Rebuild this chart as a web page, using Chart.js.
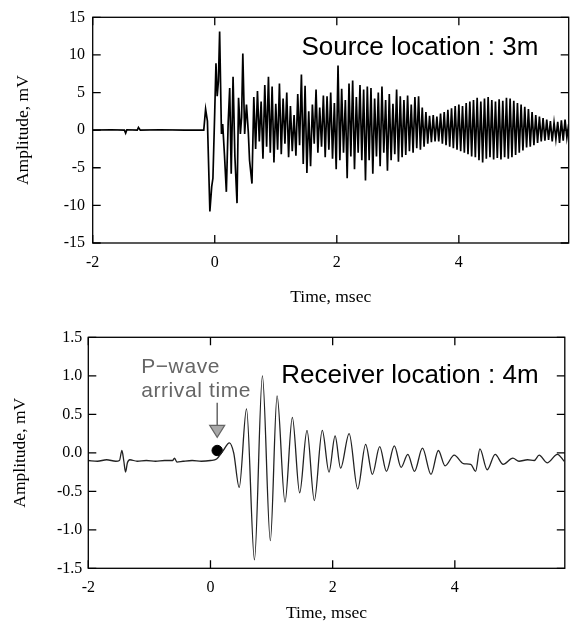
<!DOCTYPE html>
<html><head><meta charset="utf-8">
<script src="https://cdn.jsdelivr.net/npm/chart.js@4.4.0/dist/chart.umd.min.js"></script>
<style>
html,body{margin:0;padding:0;background:#fff;overflow:hidden;}
.w{position:absolute;left:0;width:571px;height:317px;}
#w1{top:0}
#w2{top:317px}
</style></head><body>
<div class="w" id="w1"><canvas id="c1"></canvas></div>
<div class="w" id="w2"><canvas id="c2"></canvas></div>
<script>
// ---------- data ----------
const xTicks = [-2, 0, 2, 4];
const srcTicksY = [-15, -10, -5, 0, 5, 10, 15];
const rcvTicksY = [-1.5, -1.0, -0.5, 0, 0.5, 1.0, 1.5];

// Source trace (mV): explicit points up to the end of the first burst
const srcOnsetTime = [-2.00, -1.70, -1.48, -1.46, -1.44, -1.27, -1.25, -1.22, -0.90, -0.50, -0.18,
  -0.15, -0.12, -0.08, -0.05, -0.03, 0.00, 0.02, 0.04, 0.06, 0.08, 0.11, 0.13, 0.16, 0.19, 0.22,
  0.245, 0.27, 0.30, 0.33, 0.365, 0.39, 0.42, 0.44, 0.46, 0.49, 0.52, 0.55, 0.57, 0.61];
const srcOnsetAmp = [0, 0.05, 0, -0.4, 0.05, 0, 0.35, 0, 0.05, 0, 0,
  2.8, 1.2, -10.8, -7.5, -6.4, 2.5, 8.9, 4.5, 6.5, 13.1, -0.5, 0.8, -3.4, -8.2, 1.0,
  5.6, -5.8, 7.1, -3.5, -9.7, 4.3, -0.5, 1.7, 10.2, -0.5, 3.4, -0.3, -4.0, -7.1];
// Source trace: sampled peaks/troughs every 0.03 ms from 0.64 ms
const srcSampleStart = 0.64;
const srcSampleStep = 0.03;
const srcSampleAmp = [
  4.4, -2.5, 5.2, -1.5, 3.8, -3.8, 6.0, -2.2, 7.1, -3.0,
  5.8, -4.3, 3.5, -2.6, 6.2, -3.2, 4.2, -1.8, 5.0, -3.6,
  3.2, -2.8, 2.0, -3.4, 4.8, -2.0, 7.4, -4.5, 5.9, -5.7,
  2.5, -4.8, 3.4, -1.8, 5.4, -3.0, 3.0, -2.2, 4.6, -3.6,
  4.5, -2.6, 5.0, -3.8, 3.6, -5.2, 8.6, -4.0, 5.5, -3.0,
  4.0, -6.4, 6.2, -3.5, 6.6, -5.2, 4.4, -3.0, 6.0, -4.0,
  5.4, -6.7, 5.8, -4.0, 5.6, -5.8, 4.2, -3.5, 5.0, -4.8,
  5.8, -3.0, 4.0, -5.4, 4.8, -4.0, 3.5, -3.2, 5.4, -4.2,
  4.5, -3.6, 4.0, -3.3, 4.6, -2.8, 3.4, -3.0, 4.4, -2.4,
  4.5, -2.6, 3.0, -2.2, 2.4, -1.8, 1.9, -1.6, 2.0, -1.5,
  1.8, -1.5, 2.2, -1.8, 2.4, -2.0, 2.7, -2.2, 2.9, -2.4,
  3.2, -2.6, 3.4, -2.8, 3.2, -3.0, 3.6, -3.2, 3.8, -3.5,
  4.0, -3.6, 4.3, -4.0, 3.8, -4.3, 4.2, -3.8, 4.4, -3.6,
  4.0, -3.9, 3.8, -3.7, 4.1, -3.9, 3.9, -3.6, 4.3, -3.8,
  4.2, -3.6, 3.9, -3.3, 3.6, -3.0, 3.4, -2.7, 3.1, -2.3,
  2.8, -2.2, 2.4, -2.0, 2.0, -1.7, 1.8, -1.5, 1.6, -1.4,
  1.4, -1.3, 1.2, -1.5, 1.0, -1.2, 1.1, -1.7, 1.3, -1.4,
  1.4, -1.0, 0.8];

// Receiver trace (mV)
const rcvTime = [-2.00, -1.85, -1.70, -1.55, -1.49, -1.45, -1.42, -1.39, -1.36, -1.32, -1.20, -1.05,
  -0.90, -0.75, -0.62, -0.59, -0.55, -0.45, -0.30, -0.15, 0.00, 0.10, 0.20, 0.31, 0.38, 0.47, 0.59,
  0.72, 0.85, 0.98, 1.09, 1.22, 1.34, 1.46, 1.58, 1.70, 1.83, 1.94, 2.04, 2.13, 2.27, 2.41, 2.54,
  2.65, 2.77, 2.88, 3.01, 3.12, 3.23, 3.34, 3.47, 3.61, 3.73, 3.84, 3.99, 4.14, 4.26, 4.34, 4.41,
  4.53, 4.66, 4.79, 4.95, 5.05, 5.19, 5.30, 5.38, 5.51, 5.68, 5.79];
const rcvAmp = [-0.10, -0.11, -0.09, -0.11, -0.10, 0.03, -0.10, -0.25, -0.13, -0.09, -0.11, -0.10,
  -0.11, -0.10, -0.10, -0.07, -0.12, -0.11, -0.10, -0.11, -0.10, -0.08, 0.02, 0.13, 0.00, -0.45, 0.57,
  -1.39, 1.00, -1.14, 0.74, -0.64, 0.46, -0.52, 0.29, -0.62, 0.29, -0.25, 0.22, -0.20, 0.25, -0.47, 0.11,
  -0.28, 0.08, -0.24, 0.09, -0.19, -0.02, -0.24, 0.06, -0.28, 0.03, -0.17, -0.03, -0.14, -0.15, -0.24, 0.05,
  -0.22, -0.02, -0.15, -0.07, -0.11, -0.09, -0.10, -0.03, -0.13, -0.02, -0.11];

const pwavePick = {x: 0.11, y: 0.03};
const pwaveArrow = {x: 0.11, yFrom: 0.65, yTo: 0.20};
const srcLabel = {text: 'Source location : 3m', x: 1.42, y: 10.0};
const rcvLabel = {text: 'Receiver location : 4m', x: 1.16, y: 0.91};
const pwaveLabel = {lines: ['P\u2212wave', 'arrival time'], x: -1.135, y: [1.03, 0.72]};

// ---------- build ----------
const srcPoints = srcOnsetTime.map((t, i) => ({x: t, y: srcOnsetAmp[i]}))
  .concat(srcSampleAmp.map((v, i) => ({x: +(srcSampleStart + i * srcSampleStep).toFixed(3), y: v})));
const rcvPoints = rcvTime.map((t, i) => ({x: t, y: rcvAmp[i]}));

const serif = "'Liberation Serif', 'Times New Roman', serif";
const sans = "'Liberation Sans', Arial, sans-serif";

const framePlugin = {
  id: 'frame',
  afterDatasetsDraw(chart) {
    const {ctx, chartArea: a, scales: {x, y}} = chart;
    ctx.save();
    ctx.strokeStyle = '#000';
    ctx.lineWidth = 1.3;
    ctx.strokeRect(a.left, a.top, a.right - a.left, a.bottom - a.top);
    ctx.beginPath();
    const L = 8;
    x.ticks.forEach(t => {
      const p = x.getPixelForValue(t.value);
      ctx.moveTo(p, a.bottom); ctx.lineTo(p, a.bottom - L);
      ctx.moveTo(p, a.top); ctx.lineTo(p, a.top + L);
    });
    y.ticks.forEach(t => {
      const p = y.getPixelForValue(t.value);
      ctx.moveTo(a.left, p); ctx.lineTo(a.left + L, p);
      ctx.moveTo(a.right, p); ctx.lineTo(a.right - L, p);
    });
    ctx.stroke();
    ctx.restore();
  }
};

function makeOptions(cfg) {
  return {
    responsive: true,
    maintainAspectRatio: false,
    animation: false,
    events: [],
    layout: {padding: {left: 0, right: cfg.padRight, top: cfg.padTop, bottom: 0}},
    plugins: {legend: {display: false}, tooltip: {enabled: false}},
    scales: {
      x: {
        type: 'linear', min: -2, max: 5.8,
        grid: {display: false, drawTicks: false},
        border: {display: false},
        afterBuildTicks: s => { s.ticks = xTicks.map(v => ({value: v})); },
        afterFit: s => { s.height = cfg.xHeight; },
        ticks: {color: '#000', padding: 10, font: {family: serif, size: cfg.tickSize}, maxRotation: 0,
          callback: v => String(v)},
        title: {display: true, text: 'Time, msec', color: '#000',
          font: {family: serif, size: 17.5}, padding: {top: 0, bottom: cfg.xTitlePad}}
      },
      y: {
        type: 'linear', min: cfg.yMin, max: cfg.yMax,
        grid: {display: false, drawTicks: false},
        border: {display: false},
        afterBuildTicks: s => { s.ticks = cfg.yTicks.map(v => ({value: v})); },
        afterFit: s => { s.width = cfg.yWidth; },
        ticks: {color: '#000', padding: cfg.yTickPad, font: {family: serif, size: cfg.tickSize},
          callback: cfg.yFmt},
        title: {display: true, text: 'Amplitude, mV', color: '#000',
          font: {family: serif, size: 17.5}, padding: {top: cfg.yTitlePad, bottom: 0}}
      }
    }
  };
}

// Top chart
new Chart(document.getElementById('c1'), {
  type: 'line',
  data: {datasets: [{data: srcPoints, borderColor: '#000', borderWidth: 1.7, pointRadius: 0, tension: 0}]},
  options: makeOptions({padRight: 2.3, padTop: 15, xHeight: 74, yWidth: 92.7, yTickPad: 7.7,
    xTitlePad: 9.5, yTitlePad: 12.5, tickSize: 16, yMin: -15, yMax: 15, yTicks: srcTicksY,
    yFmt: v => String(v)}),
  plugins: [framePlugin, {
    id: 'srcText',
    afterDatasetsDraw(chart) {
      const {ctx, scales: {x, y}} = chart;
      ctx.save();
      ctx.fillStyle = '#000';
      ctx.font = '26px ' + sans;
      ctx.textAlign = 'left';
      ctx.textBaseline = 'alphabetic';
      ctx.fillText(srcLabel.text, x.getPixelForValue(srcLabel.x), y.getPixelForValue(srcLabel.y));
      ctx.restore();
    }
  }]
});

// Bottom chart
new Chart(document.getElementById('c2'), {
  type: 'line',
  data: {datasets: [
    {data: rcvPoints, borderColor: '#222', borderWidth: 1.3, pointRadius: 0, cubicInterpolationMode: 'monotone'},
    {type: 'scatter', data: [pwavePick], pointRadius: 5.2, backgroundColor: '#000', borderColor: '#000', showLine: false}
  ]},
  options: makeOptions({padRight: 2.3, padTop: 20.3, xHeight: 65.7, yWidth: 88.3, yTickPad: 6,
    xTitlePad: 10.5, yTitlePad: 9.5, tickSize: 16, yMin: -1.5, yMax: 1.5, yTicks: rcvTicksY,
    yFmt: v => v.toFixed(1)}),
  plugins: [framePlugin, {
    id: 'rcvText',
    afterDatasetsDraw(chart) {
      const {ctx, scales: {x, y}} = chart;
      ctx.save();
      ctx.fillStyle = '#000';
      ctx.font = '26px ' + sans;
      ctx.textAlign = 'left';
      ctx.textBaseline = 'alphabetic';
      ctx.fillText(rcvLabel.text, x.getPixelForValue(rcvLabel.x), y.getPixelForValue(rcvLabel.y));
      ctx.fillStyle = '#666';
      ctx.font = '21px ' + sans;
      ctx.letterSpacing = '0.6px';
      pwaveLabel.lines.forEach((s, i) => {
        ctx.fillText(s, x.getPixelForValue(pwaveLabel.x), y.getPixelForValue(pwaveLabel.y[i]));
      });
      ctx.letterSpacing = '0px';
      // arrow
      const ax = x.getPixelForValue(pwaveArrow.x);
      const y0 = y.getPixelForValue(pwaveArrow.yFrom);
      const y1 = y.getPixelForValue(pwaveArrow.yTo);
      const headH = 12;
      ctx.strokeStyle = '#666';
      ctx.lineWidth = 1.5;
      ctx.beginPath();
      ctx.moveTo(ax, y0); ctx.lineTo(ax, y1 - headH);
      ctx.stroke();
      ctx.beginPath();
      ctx.moveTo(ax - 7.5, y1 - headH); ctx.lineTo(ax + 7.5, y1 - headH); ctx.lineTo(ax, y1); ctx.closePath();
      ctx.fillStyle = '#a8a8a8';
      ctx.fill();
      ctx.lineWidth = 1.2;
      ctx.stroke();
      ctx.restore();
    }
  }]
});
</script>
</body></html>
